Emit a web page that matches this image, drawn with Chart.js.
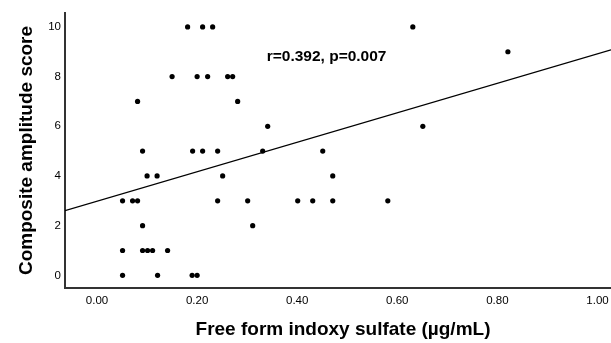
<!DOCTYPE html>
<html>
<head>
<meta charset="utf-8">
<script src="https://cdn.jsdelivr.net/npm/chart.js@4"></script>
<style>
  html, body { margin: 0; padding: 0; background: #fff; }
  #wrap { width: 611px; height: 343px; }
</style>
</head>
<body>
<div id="wrap"><canvas id="myChart"></canvas></div>
<script>
// free form indoxyl sulfate (x) and composite amplitude score (y)
const sulfate = [
  0.181, 0.211, 0.231, 0.631,
  0.821,
  0.150, 0.200, 0.221, 0.261, 0.271,
  0.081, 0.281,
  0.341, 0.651,
  0.091, 0.191, 0.211, 0.241, 0.331, 0.451,
  0.100, 0.120, 0.251, 0.471,
  0.051, 0.071, 0.081, 0.241, 0.301, 0.401, 0.431, 0.471, 0.581,
  0.091, 0.311,
  0.051, 0.091, 0.101, 0.111, 0.141,
  0.051, 0.121, 0.190, 0.200
]
const score = [
  10, 10, 10, 10,
  9,
  8, 8, 8, 8, 8,
  7, 7,
  6, 6,
  5, 5, 5, 5, 5, 5,
  4, 4, 4, 4,
  3, 3, 3, 3, 3, 3, 3, 3, 3,
  2, 2,
  1, 1, 1, 1, 1,
  0, 0, 0, 0
]

// fitted line, ends read at the plot edges
const fitX = [-0.064, 1.027]
const fitY = [2.6, 9.08]

const xTicks = [0, 0.2, 0.4, 0.6, 0.8, 1.0]
const yTicks = [0, 2, 4, 6, 8, 10]

const xTitle = 'Free form indoxy sulfate (µg/mL)'
const yTitle = 'Composite amplitude score'
const statText = 'r=0.392, p=0.007'
const statPos = { x: 0.339, y: 8.81 }

const FONT = "'Liberation Sans', Arial, sans-serif"

// stat label inside the plot + x title centred a bit right of the plot centre, like the source
const extraText = {
  id: 'extraText',
  afterDraw(chart) {
    const c = chart.ctx
    const px = chart.scales.x.getPixelForValue(statPos.x)
    const py = chart.scales.y.getPixelForValue(statPos.y)
    c.save()
    c.fillStyle = '#000'
    c.textBaseline = 'middle'
    c.font = 'bold 15.5px ' + FONT
    c.textAlign = 'left'
    c.fillText(statText, px, py)
    c.font = 'bold 19px ' + FONT
    c.textAlign = 'center'
    c.fillText(xTitle, 343, 329.5)
    c.restore()
  }
}

const ctx = document.getElementById('myChart')

new Chart(ctx, {
  type: 'scatter',
  data: {
    datasets: [{
      label: 'fit',
      type: 'line',
      data: fitX.map((x, i) => ({ x: x, y: fitY[i] })),
      borderColor: '#000',
      borderWidth: 1.3,
      pointRadius: 0,
      fill: false
    }, {
      label: 'patients',
      data: sulfate.map((x, i) => ({ x: x, y: score[i] })),
      backgroundColor: '#000',
      borderWidth: 0,
      pointRadius: 2.6
    }]
  },
  options: {
    responsive: true,
    maintainAspectRatio: false,
    animation: false,
    layout: { autoPadding: false, padding: { top: 13, right: 0, left: 0, bottom: 0 } },
    plugins: {
      legend: { display: false },
      tooltip: { enabled: false }
    },
    scales: {
      x: {
        type: 'linear',
        min: -0.064,
        max: 1.027,
        afterBuildTicks: s => { s.ticks = xTicks.map(v => ({ value: v })) },
        afterFit: s => { s.height = 55; s.paddingLeft = 0; s.paddingRight = 0 },
        grid: { display: false, drawTicks: false },
        border: { display: true, color: '#333', width: 2 },
        ticks: {
          padding: 6,
          color: '#000',
          font: { family: FONT, size: 11.5 },
          callback: v => v.toFixed(2)
        }
      },
      y: {
        type: 'linear',
        min: -0.51,
        max: 10.56,
        afterBuildTicks: s => { s.ticks = yTicks.map(v => ({ value: v })) },
        afterFit: s => { s.width = 65; s.paddingTop = 0; s.paddingBottom = 0 },
        grid: { display: false, drawTicks: false },
        border: { display: true, color: '#333', width: 2 },
        ticks: {
          padding: 4,
          color: '#000',
          font: { family: FONT, size: 11.5 },
          callback: v => String(v)
        },
        title: {
          display: true,
          text: yTitle,
          color: '#000',
          font: { family: FONT, size: 19, weight: 'bold' },
          padding: { top: 15, bottom: 0 }
        }
      }
    }
  },
  plugins: [extraText]
})
</script>
</body>
</html>
